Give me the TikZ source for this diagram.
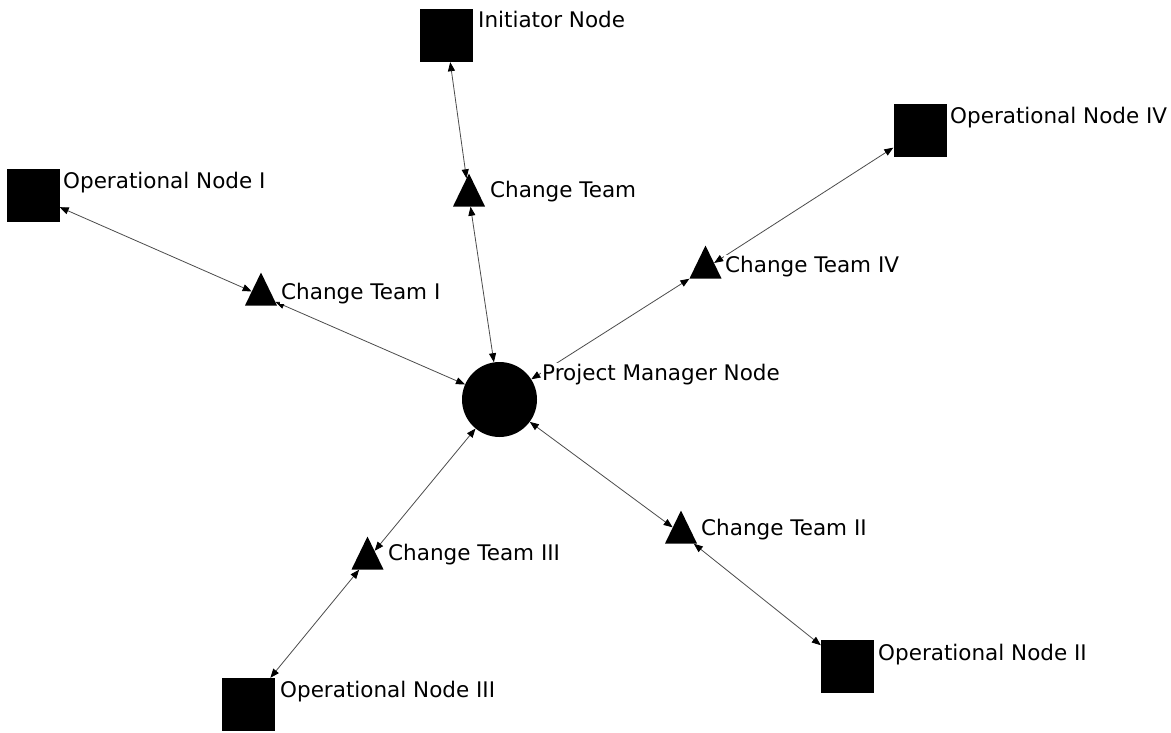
\documentclass[tikz,border=0pt]{standalone}
\usepackage{fontspec}
\setmainfont{DejaVu Sans}
\usetikzlibrary{arrows.meta,shapes.geometric}
\begin{document}
\begin{tikzpicture}[x=1pt,y=-1pt,
  sq/.style={fill=black,draw=none,minimum size=53pt,inner sep=0pt},
  tri/.style={isosceles triangle,isosceles triangle apex angle=52,shape border rotate=90,
    isosceles triangle stretches,minimum width=32pt,minimum height=33pt,
    fill=black,draw=none,inner sep=0pt},
  hub/.style={circle,fill=black,draw=none,minimum size=75pt,inner sep=0pt},
  lbl/.style={anchor=base west,font=\fontsize{21.5}{25}\selectfont,inner sep=1pt,fill=white},
  link/.style={draw=black!70,line width=0.8pt,
    arrows={Triangle[length=9pt,width=7pt,color=black]-Triangle[length=9pt,width=7pt,color=black]}}
]
\useasboundingbox (0,0) rectangle (1171,733);
\fill[white] (0,0) rectangle (1171,733);
% shapes
\node[sq] (init) at (446.5,35.5) {};
\node[sq] (op1) at (33,195.5) {};
\node[sq] (op4) at (920,130.5) {};
\node[sq] (op2) at (847.5,666.5) {};
\node[sq] (op3) at (248.5,704.5) {};
\node[tri] (ct) at (469,196.5) {};
\node[tri] (ct1) at (261,295.5) {};
\node[tri] (ct4) at (705.5,268.5) {};
\node[tri] (ct2) at (681,533.5) {};
\node[tri] (ct3) at (367.5,559.5) {};
\node[hub] (pm) at (499.5,399.5) {};
% connectors
\draw[link] (init) -- (ct);
\draw[link] (ct) -- (pm);
\draw[link] (op1) -- (ct1);
\draw[link] (ct1) -- (pm);
\draw[link] (pm) -- (ct4);
\draw[link] (ct4) -- (op4);
\draw[link] (pm) -- (ct2);
\draw[link] (ct2) -- (op2);
\draw[link] (pm) -- (ct3);
\draw[link] (ct3) -- (op3);
% labels
\node[lbl] (linit) at (477,28) {Initiator Node};
\node[lbl] (lct) at (489,198) {Change Team};
\node[lbl] (lop1) at (62,189) {Operational Node I};
\node[lbl] (lct1) at (280,299) {Change Team I};
\node[lbl] (lpm) at (541,380) {Project Manager Node};
\node[lbl] (lct4) at (724,272) {Change Team IV};
\node[lbl] (lop4) at (949,124) {Operational Node IV};
\node[lbl] (lct2) at (700,535) {Change Team II};
\node[lbl] (lop2) at (877,660) {Operational Node II};
\node[lbl] (lct3) at (387,560) {Change Team III};
\node[lbl] (lop3) at (279,697) {Operational Node III};
\end{tikzpicture}
\end{document}
